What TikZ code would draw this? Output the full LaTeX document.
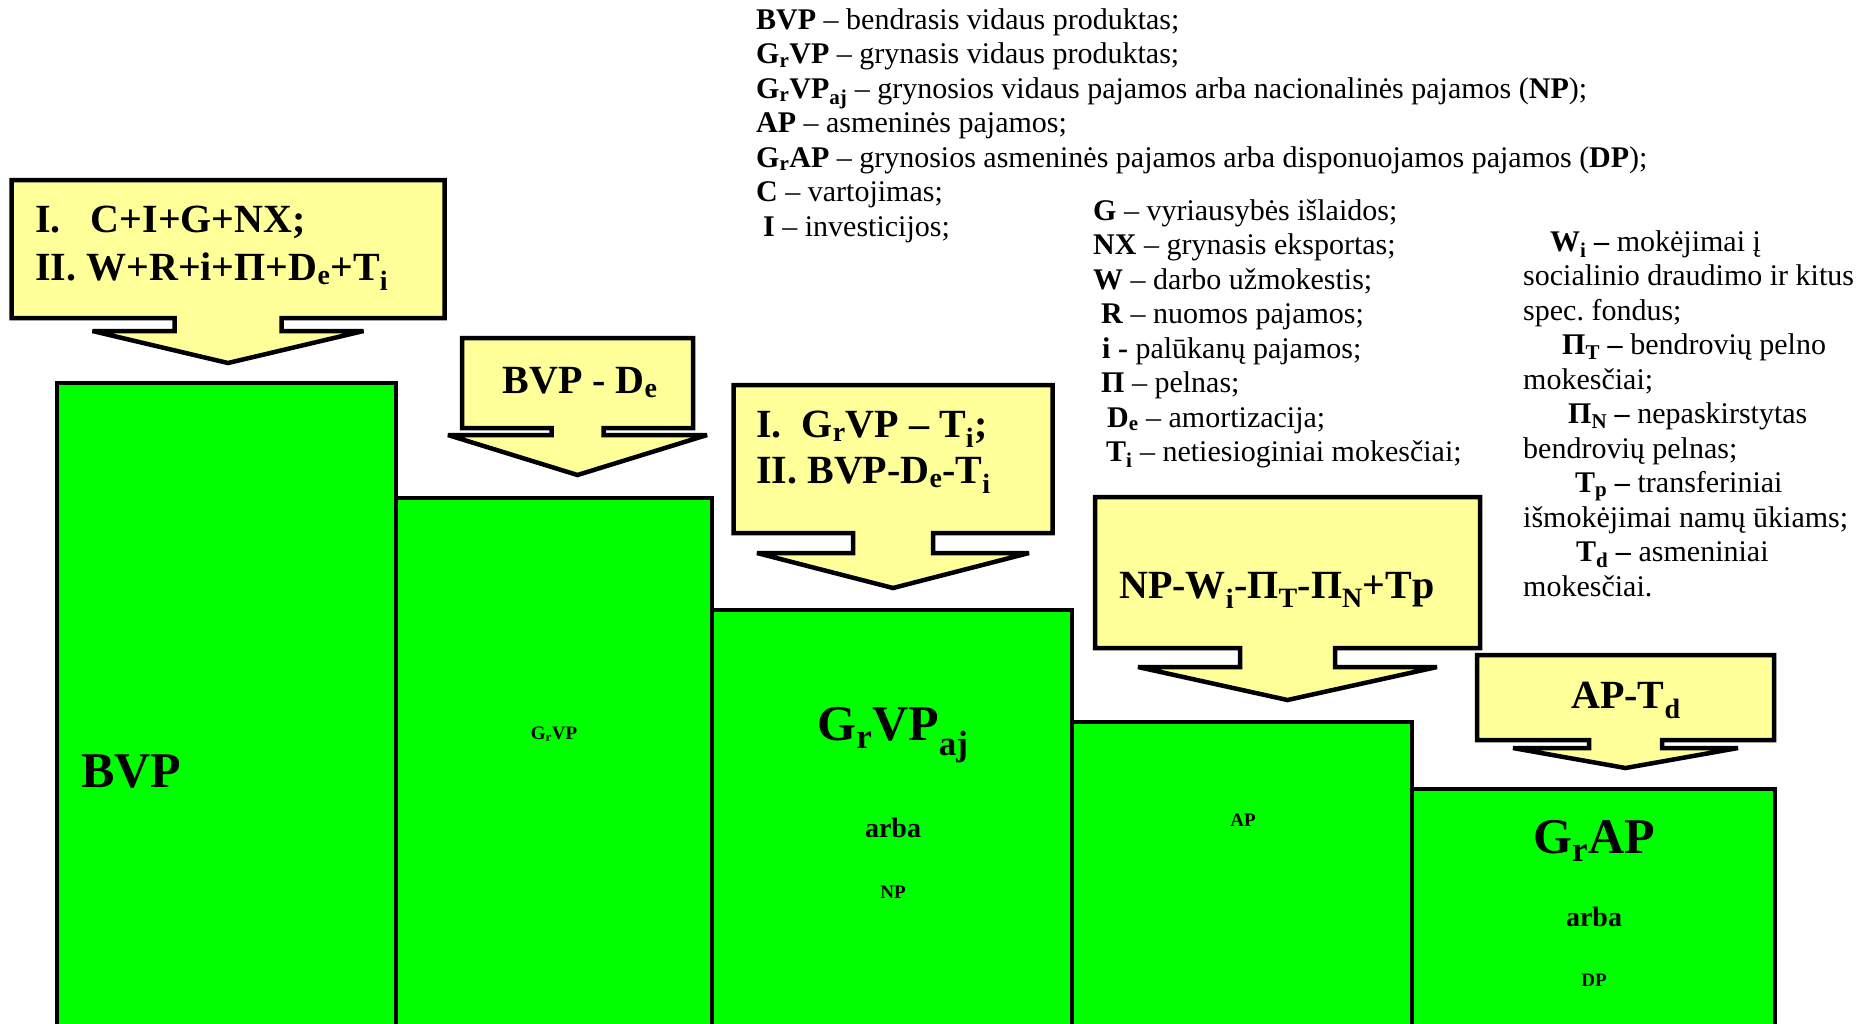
\documentclass[tikz,border=0pt]{standalone}
\usepackage{fontspec}
\setmainfont{Liberation Serif}
\definecolor{bargreen}{HTML}{00FF00}
\definecolor{noteyellow}{HTML}{FFFF99}

% down arrow callout: centre x, half width, top, bottom, stem half width, wing y, wing half width, tip y
\newcommand{\downcallout}[8]{%
  \draw[notebox] ({#1-#2},#3) -- ({#1+#2},#3) -- ({#1+#2},#4) -- ({#1+#5},#4)
    -- ({#1+#5},#6) -- ({#1+#7},#6) -- (#1,#8) -- ({#1-#7},#6)
    -- ({#1-#5},#6) -- ({#1-#5},#4) -- ({#1-#2},#4) -- cycle;}

\begin{document}
\begin{tikzpicture}[x=1pt, y=-1pt,
    bar/.style={draw, line width=4.5pt, fill=bargreen},
    notebox/.style={draw, line width=4.5pt, fill=noteyellow, line join=miter, miter limit=2},
    formula/.style={font=\fontsize{40}{48}\selectfont\bfseries, inner sep=0pt, anchor=base west},
    legend/.style={font=\fontsize{30}{34.5}\selectfont, align=left, anchor=north west, inner sep=0pt},
    barbig/.style={font=\fontsize{50}{60}\selectfont\bfseries, inner sep=0pt, anchor=base},
    barmid/.style={font=\fontsize{28}{34}\selectfont\bfseries, inner sep=0pt, anchor=base},
    barsmall/.style={font=\fontsize{19}{23}\selectfont\bfseries, inner sep=0pt, anchor=base}
]
\useasboundingbox (0,0) rectangle (1867,1023);
\clip (0,0) rectangle (1867,1023);

% Income bars
\draw[bar] (57,383) rectangle (396,1040);
\draw[bar] (396,498) rectangle (712,1040);
\draw[bar] (712,610) rectangle (1072,1040);
\draw[bar] (1072,722) rectangle (1412,1040);
\draw[bar] (1412,789) rectangle (1775,1040);

% Bar labels
\node[barbig, anchor=base west] (bvp) at (81,787) {BVP};
\node[barsmall] (grvp) at (554,739) {G\textsubscript{r}VP};
\node[barbig] (grvpaj) at (893,740) {G\textsubscript{r}VP\textsubscript{aj}};
\node[barmid] (arbanp) at (893,837) {arba};
\node[barsmall] (np) at (893,898) {NP};
\node[barsmall] (ap) at (1243,826) {AP};
\node[barbig] (grap) at (1594,853) {G\textsubscript{r}AP};
\node[barmid] (arbadp) at (1594,926) {arba};
\node[barsmall] (dp) at (1594,986) {DP};

% Formula callouts
\downcallout{228}{216.5}{180}{318}{53.5}{331}{135.5}{363}
\downcallout{577.5}{115.5}{338}{428}{26}{435}{129.5}{475}
\downcallout{893}{159.5}{385}{533}{40}{553}{136}{588}
\downcallout{1287.5}{192.5}{497}{648}{47.5}{667}{149.5}{700}
\downcallout{1625.5}{148.5}{655}{740}{36.5}{748}{112.5}{768}

\node[formula] (fbvpa) at (35,232) {I.\ \ \ C+I+G+NX;};
\node[formula] (fbvpb) at (35,280) {II. W+R+i+Π+D\textsubscript{e}+T\textsubscript{i}};
\node[formula, anchor=base] (fgrvp) at (580,393) {BVP - D\textsubscript{e}};
\node[formula] (fnpa) at (756,437) {I.\ \ G\textsubscript{r}VP – T\textsubscript{i};};
\node[formula] (fnpb) at (756,483) {II. BVP-D\textsubscript{e}-T\textsubscript{i}};
\node[formula] (fap) at (1119,598) {NP-W\textsubscript{i}-Π\textsubscript{T}-Π\textsubscript{N}+Tp};
\node[formula, anchor=base] (fdp) at (1626,708) {AP-T\textsubscript{d}};

% Legend
\node[legend] (legmain) at (756,8) {%
  \textbf{BVP} – bendrasis vidaus produktas;\\
  \textbf{G\textsubscript{r}VP} – grynasis vidaus produktas;\\
  \textbf{G\textsubscript{r}VP\textsubscript{aj}} – grynosios vidaus pajamos arba nacionalinės pajamos (\textbf{NP});\\
  \textbf{AP} – asmeninės pajamos;\\
  \textbf{G\textsubscript{r}AP} – grynosios asmeninės pajamos arba disponuojamos pajamos (\textbf{DP});\\
  \textbf{C} – vartojimas;\\
  \hspace*{7pt}\textbf{I} – investicijos;};
\node[legend] (legparts) at (1093,199) {%
  \textbf{G} – vyriausybės išlaidos;\\
  \textbf{NX} – grynasis eksportas;\\
  \textbf{W} – darbo užmokestis;\\
  \hspace*{8pt}\textbf{R} – nuomos pajamos;\\
  \hspace*{9pt}\textbf{i -} palūkanų pajamos;\\
  \hspace*{8pt}\textbf{Π} – pelnas;\\
  \hspace*{14pt}\textbf{D\textsubscript{e}} – amortizacija;\\
  \hspace*{13pt}\textbf{T\textsubscript{i}} – netiesioginiai mokesčiai;};
\node[legend] (legtaxes) at (1523,230) {%
  \hspace*{27pt}\textbf{W\textsubscript{i} –} mokėjimai į\\
  socialinio draudimo ir kitus\\
  spec.\ fondus;\\
  \hspace*{39pt}\textbf{Π\textsubscript{T} –} bendrovių pelno\\
  mokesčiai;\\
  \hspace*{45pt}\textbf{Π\textsubscript{N} –} nepaskirstytas\\
  bendrovių pelnas;\\
  \hspace*{52pt}\textbf{T\textsubscript{p} –} transferiniai\\
  išmokėjimai namų ūkiams;\\
  \hspace*{53pt}\textbf{T\textsubscript{d} –} asmeniniai\\
  mokesčiai.};

\end{tikzpicture}
\end{document}
